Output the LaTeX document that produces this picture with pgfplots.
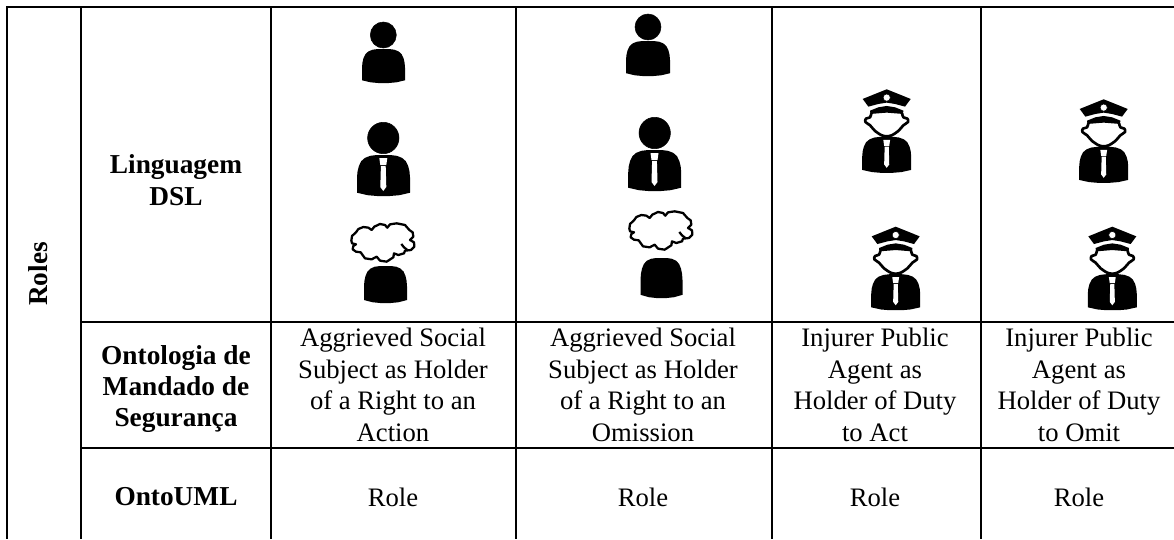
\documentclass[border=0pt]{standalone}
\usepackage{fontspec}
\setmainfont{Liberation Serif}
\usepackage{pgfplots}
\usepackage{pgfplotstable}
\pgfplotsset{compat=1.18}
\pgfplotstableread{
x y
-1 0.92
-1 0.55
-0.98 0.4
-0.93 0.27
-0.84 0.15
-0.7 0.07
-0.5 0.02
-0.25 0
0.25 0
0.5 0.02
0.7 0.07
0.84 0.15
0.93 0.27
0.98 0.4
1 0.55
1 0.92
0.6 0.98
0.25 1
-0.25 1
-0.6 0.98
}\dometable
\pgfplotstableread{
x y
-4 0
4 0
3 7
-3 7
}\knottable
\pgfplotstableread{
x y
-2.4 8
2.4 8
3 29
0 33
-3 29
}\tietable
\pgfplotstableread{
x y
64 722
66 708
78 697
85 687
100 681
115 683
125 690
133 680
150 672
165 675
172 683
180 673
200 670
225 675
238 690
248 697
250 710
240 720
252 727
253 740
243 750
225 752
222 760
205 765
192 760
190 772
170 785
150 782
140 770
125 778
105 775
92 757
78 755
68 748
70 738
78 733
66 730
64 722
}\cloudtable
\pgfplotstableread{
x y
214 732
222 742
232 750
}\curltable
\pgfplotstableread{
x y
-72 29
-35 14
0 0
35 14
72 29
55 52
25 44
0 40
-25 44
-55 52
}\captable
\pgfplotstableread{
x y
-50 64
-25 54
0 50
25 54
50 64
49 74
0 70
-49 74
}\bandtable
\pgfplotstableread{
x y
-46 72
-50 84
-62 88
-64 98
-50 108
-35 125
-15 138
0 141
15 138
35 125
50 108
64 98
62 88
50 84
46 72
}\facetable
\newcommand{\dome}[4]{\addplot[fill=black,draw=none] table[x expr={#1+(#3)*\thisrow{x}},y expr={#2+((#4)-(#2))*\thisrow{y}}]{\dometable};}
\newcommand{\head}[3]{\addplot[only marks,mark=*,mark size=#3*0.75pt,mark options={fill=black,draw=none}] coordinates {(#1,#2)};}
\newcommand{\tie}[3]{%
\addplot[fill=white,draw=none] table[x expr={#1+#3*\thisrow{x}},y expr={#2+#3*\thisrow{y}}]{\knottable};
\addplot[fill=white,draw=none] table[x expr={#1+#3*\thisrow{x}},y expr={#2+#3*\thisrow{y}}]{\tietable};}
\newcommand{\cloud}[2]{%
\addplot[black,line width=1.7pt,line join=round,no marks] table[x expr={#1+\thisrow{x}/3},y expr={#2+\thisrow{y}/3}]{\cloudtable};
\addplot[black,line width=1.7pt,line join=round,no marks] table[x expr={#1+\thisrow{x}/3},y expr={#2+\thisrow{y}/3}]{\curltable};}
\newcommand{\officer}[2]{%
\addplot[fill=black,draw=none] table[x expr={#1+\thisrow{x}/3},y expr={#2+\thisrow{y}/3}]{\captable};
\addplot[only marks,mark=*,mark size=2.7pt,mark options={fill=white,draw=none}] coordinates {({#1},{#2+8.3})};
\addplot[fill=black,draw=none] table[x expr={#1+\thisrow{x}/3},y expr={#2+\thisrow{y}/3}]{\bandtable};
\addplot[black,line width=2pt,line join=round,no marks,smooth,tension=0.5] table[x expr={#1+\thisrow{x}/3},y expr={#2+\thisrow{y}/3}]{\facetable};
\dome{#1}{#2+47.5}{24.5}{#2+83.5}
\tie{#1}{#2+50.5}{0.85}}
\newcommand{\gridline}[4]{\addplot[black,line width=1.7pt,no marks] coordinates {(#1,#2) (#3,#4)};}
\newcommand{\bodyfont}{\fontsize{20}{23.6}\selectfont}
\newcommand{\boldfont}{\fontsize{20.5}{23.6}\selectfont\bfseries}
\begin{document}
\begin{tikzpicture}
\begin{axis}[
  scale only axis,
  width=880.5pt,height=404.25pt,
  xmin=0,xmax=1174,ymin=0,ymax=539,
  y dir=reverse,
  hide axis,
  clip=true,
]
\addplot[fill=white,draw=none] coordinates {(0,0) (1174,0) (1174,539) (0,539)};
% grid
\gridline{6}{7}{1174}{7}
\gridline{81}{322}{1174}{322}
\gridline{81}{448}{1174}{448}
\gridline{7}{7}{7}{539}
\gridline{81}{7}{81}{539}
\gridline{271}{7}{271}{539}
\gridline{516}{7}{516}{539}
\gridline{772}{7}{772}{539}
\gridline{981}{7}{981}{539}
% column 1
\head{383.3}{35}{13}
\dome{383.5}{49}{21.5}{83}
\head{383.3}{138}{15.7}
\dome{383.5}{155}{26.5}{196}
\tie{383.3}{158}{1}
\cloud{330}{0}
\dome{385.5}{266}{21.5}{303}
% column 2
\head{648}{27}{13}
\dome{648}{41}{22}{76}
\head{654.7}{133}{15.7}
\dome{654.7}{150}{26.5}{191}
\tie{654.5}{153}{1}
\cloud{608}{-12}
\dome{661.5}{258}{21}{298}
% officers
\officer{886.7}{89.3}
\officer{1103.7}{99.3}
\officer{895.7}{226.7}
\officer{1112.3}{226.7}
% text
\node[rotate=90,font=\boldfont] at (axis cs:38,274) {Roles};
\node[align=center,font=\boldfont] at (axis cs:176,180) {Linguagem\\DSL};
\node[align=center,font=\boldfont] at (axis cs:176,389) {Ontologia de\\Mandado de\\Segurança};
\node[font=\boldfont] at (axis cs:176,497) {OntoUML};
\node[align=center,font=\bodyfont] at (axis cs:393,385) {Aggrieved Social\\Subject as Holder\\of a Right to an\\Action};
\node[align=center,font=\bodyfont] at (axis cs:643,385) {Aggrieved Social\\Subject as Holder\\of a Right to an\\Omission};
\node[align=center,font=\bodyfont] at (axis cs:875,385) {Injurer Public\\Agent as\\Holder of Duty\\to Act};
\node[align=center,font=\bodyfont] at (axis cs:1079,385) {Injurer Public\\Agent as\\Holder of Duty\\to Omit};
\node[font=\bodyfont] at (axis cs:393,497) {Role};
\node[font=\bodyfont] at (axis cs:643,497) {Role};
\node[font=\bodyfont] at (axis cs:875,497) {Role};
\node[font=\bodyfont] at (axis cs:1079,497) {Role};
\end{axis}
\end{tikzpicture}
\end{document}
